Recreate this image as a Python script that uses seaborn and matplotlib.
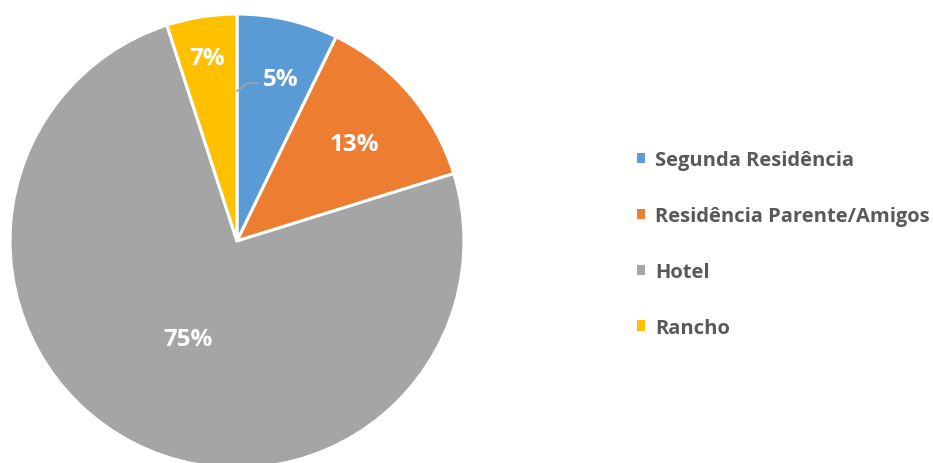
import matplotlib
matplotlib.use("Agg")
import matplotlib.pyplot as plt
import seaborn as sns
import numpy as np
from matplotlib.patches import Patch

categories = ["Segunda Residência", "Residência Parente/Amigos", "Hotel", "Rancho"]
slice_sizes = [7.2, 13.0, 74.8, 5.0]
pct_labels = ["5%", "13%", "75%", "7%"]
colors = ["#5B9BD5", "#ED7D31", "#A5A5A5", "#FFC000"]

sns.set_theme(style="white")
plt.rcParams['font.family'] = ['Open Sans', 'DejaVu Sans']

W, H = 933, 464
fig = plt.figure(figsize=(W / 100, H / 100), dpi=100)
cx, cy, r = 237, 242, 227
ax = fig.add_axes([(cx - r) / W, (H - cy - r) / H, 2 * r / W, 2 * r / H])

wedges, _ = ax.pie(slice_sizes, colors=colors, startangle=90, counterclock=False,
                   radius=1, wedgeprops=dict(edgecolor="white", linewidth=2.2))
ax.set_xlim(-1, 1)
ax.set_ylim(-1, 1)
ax.set_aspect("equal")
ax.axis("off")

dy = -0.015
# label distances (fraction of radius) along each wedge's mid-angle
label_dist = [None, 0.68, 0.47, 0.83]
for w, lab, d in zip(wedges, pct_labels, label_dist):
    if d is None:
        continue
    ang = np.deg2rad((w.theta1 + w.theta2) / 2)
    ax.text(d * np.cos(ang), d * np.sin(ang) + dy, lab, ha="center", va="center",
            color="white", fontsize=17.5, fontweight="bold")

# first slice label is offset with a leader line
ax.plot([0.0, 0.045, 0.09], [0.66, 0.695, 0.695], color="#A5A5A5", lw=1.2,
        solid_capstyle="round")
ax.text(0.194, 0.727 + dy, pct_labels[0], ha="center", va="center",
        color="white", fontsize=17.5, fontweight="bold")

handles = [Patch(facecolor=c, edgecolor="none") for c in colors]
leg = fig.legend(handles, categories, loc="upper left",
                 bbox_to_anchor=(619 / W, 1 - 133 / H), frameon=False,
                 prop=dict(size=14.5, weight="bold"), labelcolor="#595959",
                 handlelength=0.4, handleheight=0.4, handletextpad=0.5,
                 labelspacing=1.78)

fig.savefig("out.png", dpi=100)
